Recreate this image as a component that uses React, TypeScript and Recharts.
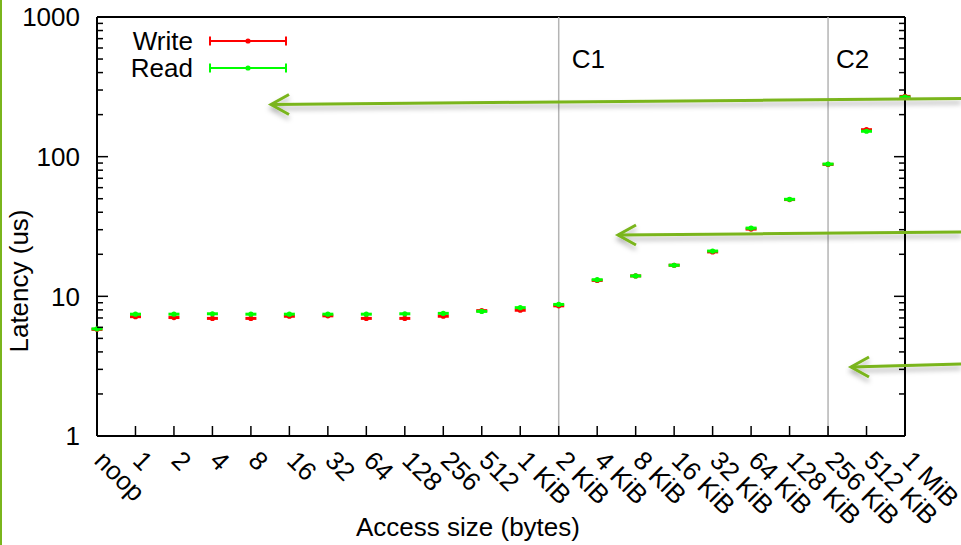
import React from "react";
import { ScatterChart, Scatter, XAxis, YAxis, ReferenceLine, Legend } from "recharts";

const categories = [
  "noop", "1", "2", "4", "8", "16", "32", "64", "128", "256", "512",
  "1 KiB", "2 KiB", "4 KiB", "8 KiB", "16 KiB", "32 KiB", "64 KiB",
  "128 KiB", "256 KiB", "512 KiB", "1 MiB",
];
const writeLatency = [
  5.8, 7.15, 7.05, 6.95, 6.95, 7.2, 7.25, 6.95, 6.95, 7.2, 7.9,
  7.95, 8.55, 13.0, 14.0, 16.7, 20.8, 30.3, 49.3, 88.0, 156, 270,
];
const readLatency = [
  5.85, 7.45, 7.45, 7.5, 7.45, 7.45, 7.45, 7.45, 7.5, 7.55, 7.8,
  8.3, 8.75, 13.15, 14.0, 16.7, 21.1, 30.8, 49.5, 88.5, 152, 267,
];
const yTicks = [
  1, 2, 3, 4, 5, 6, 7, 8, 9,
  10, 20, 30, 40, 50, 60, 70, 80, 90,
  100, 200, 300, 400, 500, 600, 700, 800, 900, 1000,
];
const decadeTicks = [1, 10, 100, 1000];
const cacheMarkers = [
  { label: "C1", category: "2 KiB", dx: 13 },
  { label: "C2", category: "256 KiB", dx: 8 },
];
const series = [
  { name: "Write", color: "#ff0000", values: writeLatency },
  { name: "Read", color: "#00ff00", values: readLatency },
];

const FONT = "'Liberation Sans', Arial, Helvetica, sans-serif";
const FS = 26;
const ANNOT = "#7ab51c";

const xIdx = categories.map((_, i) => i);

const makeShape = (color: string) => (props: any) => {
  const { cx, cy } = props;
  if (cx == null || cy == null) return <g />;
  return (
    <g>
      <line x1={cx - 5.5} x2={cx + 5.5} y1={cy} y2={cy} stroke={color} strokeWidth={3} />
      <circle cx={cx} cy={cy} r={2.6} fill={color} />
    </g>
  );
};

const LeftTick = (props: any) => {
  const { x, y, payload } = props;
  const v = payload.value;
  const major = decadeTicks.includes(v);
  const len = major ? 11 : 6;
  return (
    <g>
      <line x1={x} x2={x + len} y1={y} y2={y} stroke="#000" strokeWidth={1.5} />
      {major && (
        <text x={x - 17} y={y + 9.3} textAnchor="end" fontSize={FS} fontFamily={FONT} fill="#000">
          {v}
        </text>
      )}
    </g>
  );
};

const RightTick = (props: any) => {
  const { x, y, payload } = props;
  const v = payload.value;
  const major = decadeTicks.includes(v);
  const len = major ? 11 : 6;
  return <line x1={x} x2={x - len} y1={y} y2={y} stroke="#000" strokeWidth={1.5} />;
};

const BottomTick = (props: any) => {
  const { x, y, payload } = props;
  const label = categories[payload.value];
  const ax = x - 4;
  const ay = y + 26;
  return (
    <g>
      <line x1={x} x2={x} y1={y} y2={y - 10} stroke="#000" strokeWidth={1.5} />
      <text
        x={ax}
        y={ay}
        transform={`rotate(45, ${ax}, ${ay})`}
        textAnchor="start"
        fontSize={FS}
        fontFamily={FONT}
        fill="#000"
      >
        {label}
      </text>
    </g>
  );
};

const renderLegend = () => (
  <svg width={300} height={90} style={{ display: "block" }}>
    {series.map((s, i) => {
      const cy = 41 + 27 * i;
      return (
        <g key={s.name}>
          <text x={193} y={cy + 9.3} textAnchor="end" fontSize={FS} fontFamily={FONT} fill="#000">
            {s.name}
          </text>
          <line x1={210} x2={286} y1={cy} y2={cy} stroke={s.color} strokeWidth={2} />
          <line x1={210} x2={210} y1={cy - 4.5} y2={cy + 4.5} stroke={s.color} strokeWidth={2} />
          <line x1={286} x2={286} y1={cy - 4.5} y2={cy + 4.5} stroke={s.color} strokeWidth={2} />
          <circle cx={248} cy={cy} r={2.6} fill={s.color} />
        </g>
      );
    })}
  </svg>
);

const Arrow = ({ x1, y1, x2, y2 }: { x1: number; y1: number; x2: number; y2: number }) => (
  <g filter="url(#arrowShadow)">
    <line x1={x1} y1={y1} x2={x2} y2={y2} stroke={ANNOT} strokeWidth={3} />
    <polyline
      points={`${x2 + 18},${y2 - 10} ${x2},${y2} ${x2 + 18},${y2 + 10}`}
      fill="none"
      stroke={ANNOT}
      strokeWidth={3}
    />
  </g>
);

export default function App() {
  return (
    <div style={{ position: "absolute", left: 0, top: 0, width: 961, height: 545, background: "#fff" }}>
      <ScatterChart width={961} height={545} margin={{ top: 17, right: 0, bottom: 0, left: 0 }}>
        <XAxis
          type="number"
          dataKey="x"
          domain={[0, 21]}
          ticks={xIdx}
          interval={0}
          height={109}
          tickSize={0}
          tickMargin={0}
          tick={<BottomTick />}
          axisLine={{ stroke: "#000", strokeWidth: 2 }}
          tickLine={false}
          label={(p: any) => {
            const vb = p.viewBox || { x: 97, y: 436, width: 808 };
            return (
              <text
                x={vb.x + vb.width / 2 - 33}
                y={vb.y + 99.5}
                textAnchor="middle"
                fontSize={FS}
                fontFamily={FONT}
                fill="#000"
              >
                Access size (bytes)
              </text>
            );
          }}
        />
        <YAxis
          yAxisId="left"
          type="number"
          dataKey="y"
          scale="log"
          domain={[1, 1000]}
          ticks={yTicks}
          interval={0}
          width={97}
          tickSize={0}
          tickMargin={0}
          tick={<LeftTick />}
          tickLine={false}
          axisLine={{ stroke: "#000", strokeWidth: 2 }}
          label={(p: any) => {
            const vb = p.viewBox || { x: 0, y: 17 };
            const lx = vb.x + 27.5;
            const ly = vb.y + 264;
            return (
              <text
                x={lx}
                y={ly}
                transform={`rotate(-90, ${lx}, ${ly})`}
                textAnchor="middle"
                fontSize={FS}
                fontFamily={FONT}
                fill="#000"
              >
                Latency (us)
              </text>
            );
          }}
        />
        <YAxis
          yAxisId="right"
          orientation="right"
          type="number"
          scale="log"
          domain={[1, 1000]}
          allowDataOverflow
          ticks={yTicks}
          interval={0}
          width={56}
          tickSize={0}
          tickMargin={0}
          tick={<RightTick />}
          tickLine={false}
          axisLine={{ stroke: "#000", strokeWidth: 2 }}
        />
        <ReferenceLine yAxisId="left" y={1000} stroke="#000" strokeWidth={2} />
        {cacheMarkers.map((m) => (
          <ReferenceLine
            key={m.label}
            yAxisId="left"
            x={categories.indexOf(m.category)}
            stroke="#b4b4b4"
            strokeWidth={1.5}
            label={(p: any) => {
              const vb = p.viewBox || { x: 0, y: 17 };
              return (
                <text x={vb.x + m.dx} y={vb.y + 51} fontSize={FS} fontFamily={FONT} fill="#000">
                  {m.label}
                </text>
              );
            }}
          />
        ))}
        <Legend
          layout="vertical"
          align="center"
          verticalAlign="middle"
          content={renderLegend}
          wrapperStyle={{ position: "absolute", left: 0, top: 0, width: 300, height: 90 }}
        />
        {series.map((s) => (
          <Scatter
            key={s.name}
            yAxisId="left"
            name={s.name}
            data={categories.map((c, i) => ({ x: i, y: s.values[i], name: c }))}
            fill={s.color}
            shape={makeShape(s.color)}
            isAnimationActive={false}
          />
        ))}
      </ScatterChart>
      <svg
        width={961}
        height={545}
        style={{ position: "absolute", left: 0, top: 0, pointerEvents: "none" }}
      >
        <defs>
          <filter id="arrowShadow" x="-5%" y="-100%" width="110%" height="300%">
            <feDropShadow dx={0} dy={4} stdDeviation={2.5} floodColor="#000" floodOpacity={0.3} />
          </filter>
        </defs>
        <line x1={1} y1={0} x2={1} y2={545} stroke={ANNOT} strokeWidth={2} />
        <Arrow x1={961} y1={98.5} x2={271} y2={104.5} />
        <Arrow x1={961} y1={232} x2={618} y2={235} />
        <Arrow x1={961} y1={364} x2={851} y2={367} />
      </svg>
    </div>
  );
}
